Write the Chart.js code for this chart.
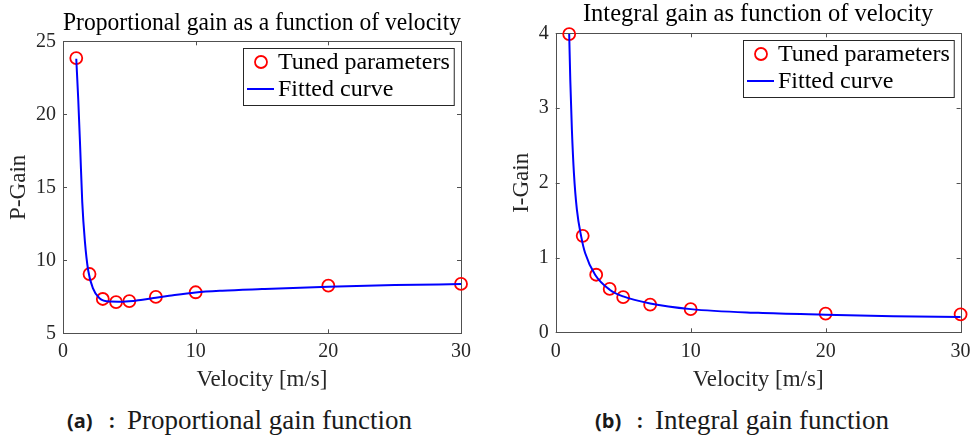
<!DOCTYPE html>
<html lang="en">
<head>
<meta charset="UTF-8">
<title>Gain as a function of velocity</title>
<script src="https://cdn.jsdelivr.net/npm/chart.js"></script>
<style>
  body { margin: 0; background: #fff; width: 978px; height: 441px; position: relative; overflow: hidden; }
  .panel { position: absolute; top: 0; width: 489px; height: 395px; }
  .cap { position: absolute; top: 405px; line-height: 32px; white-space: nowrap; color: #1a1a1a; }
  .cap.lbl { font-family: 'Open Sans', sans-serif; font-weight: 700; font-size: 20px; }
  .cap.txt { font-family: 'Liberation Serif', serif; font-size: 27px; top: 404px; }
</style>
</head>
<body>

<div class="panel" style="left:0"><canvas id="pChart" width="489" height="395"></canvas></div>
<div class="panel" style="left:489px"><canvas id="iChart" width="489" height="395"></canvas></div>

<span class="cap lbl" style="left:67px">(a)</span>
<span class="cap lbl" style="left:109px">:</span>
<span class="cap txt" style="left:127px">Proportional gain function</span>
<span class="cap lbl" style="left:595px">(b)</span>
<span class="cap lbl" style="left:637px">:</span>
<span class="cap txt" style="left:655px">Integral gain function</span>

<script>
// tuned points (velocity in m/s)
const velocity = [1, 2, 3, 4, 5, 7, 10, 20, 30];
const pGainTuned = [23.85, 9.06, 7.35, 7.14, 7.21, 7.49, 7.81, 8.27, 8.38];
const iGainTuned = [3.99, 1.29, 0.77, 0.58, 0.47, 0.37, 0.31, 0.25, 0.24];

// fitted curves
const pCurveV = [1, 1.15, 1.3, 1.45, 1.65, 1.9, 2.25, 2.75, 3.5, 4.5, 6, 7, 8, 10, 12, 15, 20, 25, 30];
const pCurve  = [23.8, 21.0, 17.6, 14.0, 11.3, 9.3, 8.1, 7.4, 7.17, 7.16, 7.3, 7.44, 7.57, 7.8, 7.92, 8.03, 8.19, 8.3, 8.37];
const iCurveV = [1, 1.08, 1.2, 1.35, 1.57, 1.89, 2.18, 2.92, 4, 5, 7, 10, 15, 20, 25, 30];
const iCurve  = [3.99, 3.38, 2.71, 2.13, 1.64, 1.28, 1.06, 0.77, 0.57, 0.48, 0.385, 0.31, 0.26, 0.235, 0.215, 0.205];

const xTicks = [0, 10, 20, 30];
const pTicks = [5, 10, 15, 20, 25];
const iTicks = [0, 1, 2, 3, 4];

const serif = 'Liberation Serif';
const ink = '#262626';

// box around the axes with inward ticks on all sides
const boxAxes = {
  id: 'boxAxes',
  beforeDatasetsDraw(chart) {
    const { ctx, chartArea: a, scales: { x, y } } = chart;
    ctx.save();
    ctx.strokeStyle = '#505050';
    ctx.lineWidth = 1;
    ctx.strokeRect(Math.round(a.left) + 0.5, Math.round(a.top) + 0.5,
                   Math.round(a.right - a.left), Math.round(a.bottom - a.top));
    const t = 4;
    ctx.beginPath();
    x.ticks.forEach(tk => {
      const px = Math.round(x.getPixelForValue(tk.value)) + 0.5;
      ctx.moveTo(px, a.bottom); ctx.lineTo(px, a.bottom - t);
      ctx.moveTo(px, a.top); ctx.lineTo(px, a.top + t);
    });
    y.ticks.forEach(tk => {
      const py = Math.round(y.getPixelForValue(tk.value)) + 0.5;
      ctx.moveTo(a.left, py); ctx.lineTo(a.left + t, py);
      ctx.moveTo(a.right, py); ctx.lineTo(a.right - t, py);
    });
    ctx.stroke();
    ctx.restore();
  }
};

// legend box inside the top right corner
const boxLegend = {
  id: 'boxLegend',
  afterDatasetsDraw(chart) {
    const { ctx, chartArea: a } = chart;
    const ds = chart.data.datasets;
    ctx.save();
    ctx.font = Chart.helpers.toFont({ family: serif, size: 24 }).string;
    const tw = Math.max(...ds.map(d => ctx.measureText(d.label).width));
    const w = 35 + tw + 4, h = 57;
    const x0 = Math.round(a.right - 7 - w), y0 = Math.round(a.top + 7);
    ctx.fillStyle = '#fff';
    ctx.fillRect(x0, y0, w, h);
    ctx.strokeStyle = ink;
    ctx.lineWidth = 1;
    ctx.strokeRect(x0 + 0.5, y0 + 0.5, w, h);
    ds.forEach((d, i) => {
      const cy = y0 + 14 + i * 27;
      if (d.showLine === false) {
        ctx.beginPath();
        ctx.arc(x0 + 18, cy, 6, 0, Math.PI * 2);
        ctx.strokeStyle = d.borderColor;
        ctx.lineWidth = d.pointBorderWidth;
        ctx.stroke();
      } else {
        ctx.beginPath();
        ctx.moveTo(x0 + 4, cy); ctx.lineTo(x0 + 31, cy);
        ctx.strokeStyle = d.borderColor;
        ctx.lineWidth = d.borderWidth;
        ctx.stroke();
      }
      ctx.fillStyle = '#000';
      ctx.textBaseline = 'middle';
      ctx.fillText(d.label, x0 + 35, cy + 1);
    });
    ctx.restore();
  }
};

function makeChart(id, o) {
  return new Chart(document.getElementById(id), {
    type: 'scatter',
    data: {
      datasets: [
        {
          label: 'Tuned parameters',
          data: velocity.map((v, i) => ({ x: v, y: o.tuned[i] })),
          showLine: false,
          pointRadius: 6,
          pointBorderWidth: 1.8,
          borderColor: '#ff0000',
          backgroundColor: 'rgba(0,0,0,0)',
          clip: false,
          order: 1
        },
        {
          label: 'Fitted curve',
          data: o.curveV.map((v, i) => ({ x: v, y: o.curve[i] })),
          showLine: true,
          pointRadius: 0,
          borderColor: '#0000ff',
          borderWidth: 2,
          cubicInterpolationMode: 'monotone',
          clip: false,
          order: 0
        }
      ]
    },
    options: {
      responsive: false,
      animation: false,
      devicePixelRatio: 1,
      layout: { padding: { left: 0, right: o.padRight, top: 0, bottom: 0 } },
      plugins: {
        legend: { display: false },
        tooltip: { enabled: false },
        title: {
          display: true,
          fullSize: false,
          text: o.title,
          color: '#000',
          font: { family: serif, size: 24.5, weight: 'normal' },
          padding: o.titlePad
        }
      },
      scales: {
        x: {
          type: 'linear',
          min: 0, max: 30,
          grid: { display: false, drawTicks: false },
          border: { display: false },
          afterBuildTicks: s => { s.ticks = xTicks.map(v => ({ value: v })); },
          afterFit: s => { s.height = o.xHeight; },
          ticks: { color: ink, font: { family: serif, size: 20 }, padding: o.xTickPad, maxRotation: 0 },
          title: { display: true, text: 'Velocity [m/s]', color: ink,
                   font: { family: serif, size: 23 }, padding: { top: 0, bottom: 1.2 } }
        },
        y: {
          type: 'linear',
          min: o.yMin, max: o.yMax,
          grid: { display: false, drawTicks: false },
          border: { display: false },
          afterBuildTicks: s => { s.ticks = o.yTicks.map(v => ({ value: v })); },
          afterFit: s => { s.width = o.yWidth; },
          ticks: { color: ink, font: { family: serif, size: 20 }, padding: 7 },
          title: { display: true, text: o.yLabel, color: ink,
                   font: { family: serif, size: 23 }, padding: { top: o.yTitlePad, bottom: 0 } }
        }
      }
    },
    plugins: [boxAxes, boxLegend]
  });
}

makeChart('pChart', {
  title: 'Proportional gain as a function of velocity',
  yLabel: 'P-Gain',
  tuned: pGainTuned, curveV: pCurveV, curve: pCurve,
  yMin: 5, yMax: 25, yTicks: pTicks,
  padRight: 28, yWidth: 63, xHeight: 61.7, xTickPad: 6.4,
  titlePad: { top: 9.3, bottom: 2.6 }, yTitlePad: 4.7
});

makeChart('iChart', {
  title: 'Integral gain as function of velocity',
  yLabel: 'I-Gain',
  tuned: iGainTuned, curveV: iCurveV, curve: iCurve,
  yMin: 0, yMax: 4, yTicks: iTicks,
  padRight: 15.3, yWidth: 66.7, xHeight: 62.7, xTickPad: 7.4,
  titlePad: { top: 0.3, bottom: 3.6 }, yTitlePad: 18.9
});
</script>
</body>
</html>
